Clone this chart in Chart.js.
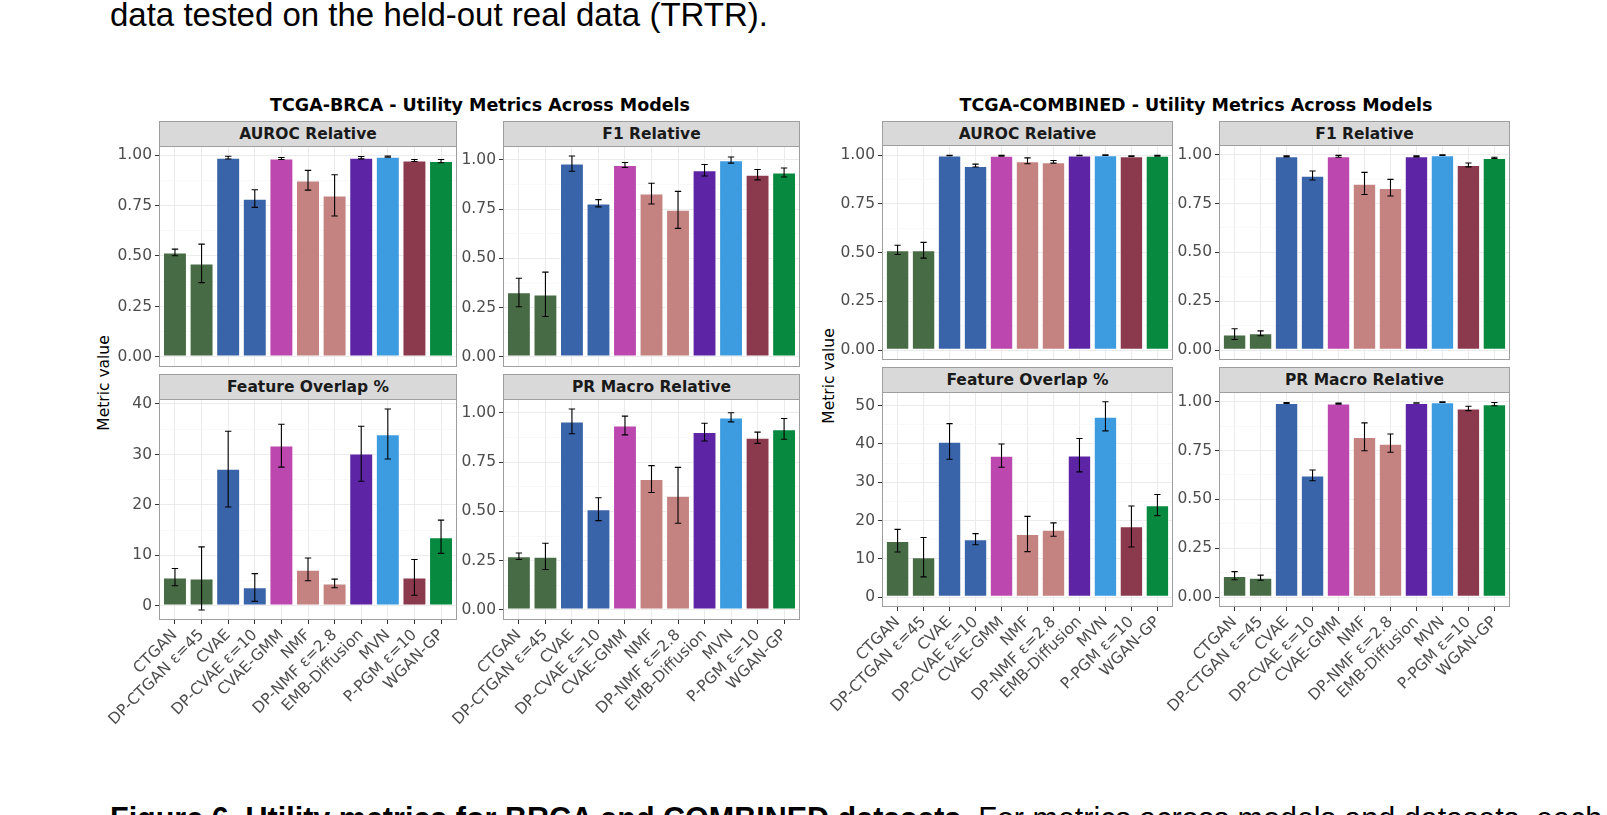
<!DOCTYPE html>
<html>
<head>
<meta charset="utf-8">
<script src="https://cdn.jsdelivr.net/npm/chart.js@4.4.1/dist/chart.umd.min.js"></script>
<style>
  html, body { margin: 0; padding: 0; background: #fff; }
  body { width: 1607px; height: 815px; overflow: hidden; position: relative; }
  .abs { position: absolute; }
  .page-text { font-family: "Liberation Sans", Arial, sans-serif; color: #000; white-space: nowrap; line-height: 36px; }
  .group-title { font-family: "DejaVu Sans", sans-serif; font-weight: bold; font-size: 17.5px; line-height: 20px; color: #000; white-space: nowrap; transform: translateX(-50%); }
  .strip { box-sizing: border-box; background: #d9d9d9; border: 1px solid #9e9e9e; display: flex; align-items: center; justify-content: center;
           font-family: "DejaVu Sans", sans-serif; font-weight: bold; font-size: 15.5px; color: #1a1a1a; }
  .ytitle { font-family: "DejaVu Sans", sans-serif; font-size: 15.5px; color: #000; white-space: nowrap; transform: translate(-50%, -50%) rotate(-90deg); }
</style>
</head>
<body>
<div class="abs page-text" style="left:110px; top:-3px; font-size:33px;">data tested on the held-out real data (TRTR).</div>
<div class="abs page-text" style="left:110px; top:800px; font-size:30.5px;"><b>Figure 6. Utility metrics for BRCA and COMBINED datasets.</b> For metrics across models and datasets, each score is shown relative to t</div>

<div class="abs group-title" style="left:480px; top:95px;">TCGA-BRCA - Utility Metrics Across Models</div>
<div class="abs group-title" style="left:1196px; top:95px;">TCGA-COMBINED - Utility Metrics Across Models</div>
<div class="abs ytitle" style="left:104px; top:383px;">Metric value</div>
<div class="abs ytitle" style="left:829px; top:376px;">Metric value</div>

<script>
// Models (x categories)
const models = ['CTGAN', 'DP-CTGAN ε=45', 'CVAE', 'DP-CVAE ε=10', 'CVAE-GMM', 'NMF', 'DP-NMF ε=2.8', 'EMB-Diffusion', 'MVN', 'P-PGM ε=10', 'WGAN-GP'];
const modelColors = ['#476b45', '#476b45', '#3a64a9', '#3a64a9', '#bc47ae', '#c48380', '#c48380', '#5d25a5', '#3d9ce0', '#8b3a4d', '#078a3f'];

// TCGA-BRCA
const brcaAuroc   = [0.517, 0.463, 0.987, 0.783, 0.983, 0.874, 0.799, 0.987, 0.992, 0.973, 0.970];
const brcaAurocLo = [0.501, 0.368, 0.980, 0.741, 0.978, 0.826, 0.698, 0.981, 0.989, 0.968, 0.962];
const brcaAurocHi = [0.534, 0.559, 0.994, 0.828, 0.988, 0.924, 0.902, 0.993, 0.995, 0.978, 0.978];

const brcaF1   = [0.328, 0.317, 0.981, 0.778, 0.973, 0.829, 0.747, 0.947, 0.998, 0.924, 0.935];
const brcaF1Lo = [0.255, 0.205, 0.942, 0.761, 0.961, 0.776, 0.652, 0.918, 0.983, 0.898, 0.913];
const brcaF1Hi = [0.399, 0.430, 1.019, 0.798, 0.986, 0.881, 0.840, 0.976, 1.014, 0.951, 0.958];

const brcaOverlap   = [5.63, 5.43, 27.15, 3.7, 31.8, 7.15, 4.44, 30.2, 34.0, 5.63, 13.6];
const brcaOverlapLo = [4.0, -0.8, 19.6, 0.9, 27.5, 5.0, 3.6, 24.7, 29.1, 2.1, 10.4];
const brcaOverlapHi = [7.4, 11.7, 34.6, 6.4, 36.0, 9.5, 5.3, 35.6, 39.0, 9.2, 17.0];

const brcaPr   = [0.272, 0.270, 0.956, 0.511, 0.935, 0.664, 0.579, 0.902, 0.976, 0.873, 0.916];
const brcaPrLo = [0.256, 0.205, 0.894, 0.453, 0.888, 0.596, 0.440, 0.857, 0.954, 0.845, 0.866];
const brcaPrHi = [0.289, 0.338, 1.019, 0.569, 0.983, 0.732, 0.723, 0.947, 1.000, 0.902, 0.971];

// TCGA-COMBINED
const combAuroc   = [0.512, 0.512, 0.998, 0.945, 0.997, 0.969, 0.964, 0.998, 1.000, 0.995, 0.997];
const combAurocLo = [0.491, 0.472, 0.997, 0.939, 0.995, 0.956, 0.959, 0.997, 0.999, 0.993, 0.995];
const combAurocHi = [0.538, 0.553, 0.999, 0.954, 0.999, 0.986, 0.973, 0.999, 1.002, 0.997, 0.999];

const combF1   = [0.080, 0.087, 0.991, 0.892, 0.991, 0.851, 0.829, 0.991, 0.997, 0.947, 0.983];
const combF1Lo = [0.055, 0.074, 0.988, 0.870, 0.986, 0.796, 0.788, 0.988, 0.995, 0.937, 0.980];
const combF1Hi = [0.110, 0.099, 0.994, 0.916, 0.996, 0.909, 0.873, 0.994, 0.999, 0.957, 0.986];

const combOverlap   = [14.7, 10.4, 40.6, 15.1, 36.9, 16.5, 17.6, 37.0, 47.1, 18.5, 24.0];
const combOverlapLo = [11.8, 5.3, 36.0, 13.7, 33.9, 11.9, 15.9, 32.7, 43.4, 13.1, 21.3];
const combOverlapHi = [17.7, 15.6, 45.3, 16.6, 40.0, 21.1, 19.4, 41.4, 51.0, 23.8, 26.8];

const combPr   = [0.109, 0.099, 0.993, 0.622, 0.990, 0.819, 0.785, 0.993, 0.997, 0.964, 0.986];
const combPrLo = [0.089, 0.087, 0.991, 0.595, 0.987, 0.749, 0.741, 0.992, 0.995, 0.954, 0.979];
const combPrHi = [0.131, 0.113, 0.995, 0.650, 0.993, 0.891, 0.834, 0.994, 0.999, 0.976, 0.995];

// Panel layout (plot box: left, top, width, height; strip drawn above)
const Y_AXIS_W = 62;
const PAD_TOP = 14;

const panels = [
  { title: 'AUROC Relative', vals: brcaAuroc, lo: brcaAurocLo, hi: brcaAurocHi, step: 0.25, left: 159, stripTop: 121, top: 146, width: 298, height: 221, xLabels: false },
  { title: 'F1 Relative', vals: brcaF1, lo: brcaF1Lo, hi: brcaF1Hi, step: 0.25, left: 503, stripTop: 121, top: 146, width: 297, height: 221, xLabels: false },
  { title: 'Feature Overlap %', vals: brcaOverlap, lo: brcaOverlapLo, hi: brcaOverlapHi, step: 10, left: 159, stripTop: 374, top: 399, width: 298, height: 221, xLabels: true },
  { title: 'PR Macro Relative', vals: brcaPr, lo: brcaPrLo, hi: brcaPrHi, step: 0.25, left: 503, stripTop: 374, top: 399, width: 297, height: 221, xLabels: true },
  { title: 'AUROC Relative', vals: combAuroc, lo: combAurocLo, hi: combAurocHi, step: 0.25, left: 882, stripTop: 121, top: 145, width: 291, height: 215, xLabels: false },
  { title: 'F1 Relative', vals: combF1, lo: combF1Lo, hi: combF1Hi, step: 0.25, left: 1219, stripTop: 121, top: 145, width: 291, height: 215, xLabels: false },
  { title: 'Feature Overlap %', vals: combOverlap, lo: combOverlapLo, hi: combOverlapHi, step: 10, left: 882, stripTop: 367, top: 392, width: 291, height: 215, xLabels: true },
  { title: 'PR Macro Relative', vals: combPr, lo: combPrLo, hi: combPrHi, step: 0.25, left: 1219, stripTop: 367, top: 392, width: 291, height: 215, xLabels: true },
];

Chart.defaults.font.family = '"DejaVu Sans", sans-serif';
Chart.defaults.font.size = 15.5;
Chart.defaults.color = '#4d4d4d';

// error bars + panel border, drawn on top of the bars
const errorBarPlugin = {
  id: 'errorBars',
  afterDatasetsDraw(chart, args, opts) {
    const { ctx, chartArea, scales: { x, y } } = chart;
    const capHalf = x.getPixelForValue(1.12) - x.getPixelForValue(1);
    ctx.save();
    ctx.strokeStyle = '#000';
    ctx.lineWidth = 1.1;
    opts.lo.forEach((lo, i) => {
      const cx = x.getPixelForValue(i + 1);
      const yLo = y.getPixelForValue(lo);
      const yHi = y.getPixelForValue(opts.hi[i]);
      ctx.beginPath();
      ctx.moveTo(cx, yLo);
      ctx.lineTo(cx, yHi);
      ctx.moveTo(cx - capHalf, yLo);
      ctx.lineTo(cx + capHalf, yLo);
      ctx.moveTo(cx - capHalf, yHi);
      ctx.lineTo(cx + capHalf, yHi);
      ctx.stroke();
    });
    ctx.strokeStyle = '#9e9e9e';
    ctx.lineWidth = 1;
    ctx.strokeRect(chartArea.left + 0.5, chartArea.top + 0.5, chartArea.width - 1, chartArea.height - 1);
    ctx.restore();
  }
};

function makePanel(p) {
  const xAxisH = p.xLabels ? 135 : 1;
  const padBottom = p.xLabels ? 0 : 14;
  const padRight = 6;

  // strip
  const strip = document.createElement('div');
  strip.className = 'abs strip';
  strip.style.left = p.left + 'px';
  strip.style.top = p.stripTop + 'px';
  strip.style.width = p.width + 'px';
  strip.style.height = (p.top - p.stripTop + 1) + 'px';
  strip.textContent = p.title;

  const canvas = document.createElement('canvas');
  const cw = Y_AXIS_W + p.width + padRight;
  const ch = PAD_TOP + p.height + xAxisH + padBottom;
  canvas.width = cw;
  canvas.height = ch;
  canvas.style.position = 'absolute';
  canvas.style.left = (p.left - Y_AXIS_W) + 'px';
  canvas.style.top = (p.top - PAD_TOP) + 'px';
  canvas.style.width = cw + 'px';
  canvas.style.height = ch + 'px';
  document.body.appendChild(canvas);
  document.body.appendChild(strip);

  // y range like ggplot: data range incl. zero, expanded by 5%
  const yMin = Math.min(0, ...p.lo);
  const yMax = Math.max(...p.hi, ...p.vals);
  const pad = (yMax - yMin) * 0.05;
  const lo = yMin - pad, hi = yMax + pad;

  const isMinor = c => c.tick && c.tick.minor;

  new Chart(canvas.getContext('2d'), {
    type: 'bar',
    data: {
      datasets: [{
        data: p.vals.map((v, i) => ({ x: i + 1, y: v })),
        backgroundColor: modelColors,
        borderColor: 'rgba(255,255,255,0.55)',
        borderWidth: 1,
        borderSkipped: false,
        categoryPercentage: 1,
        barPercentage: 0.9,
      }],
    },
    options: {
      responsive: false,
      animation: false,
      devicePixelRatio: 1,
      layout: { padding: { top: PAD_TOP, bottom: padBottom, right: padRight, left: 0 } },
      plugins: {
        legend: { display: false },
        tooltip: { enabled: false },
        errorBars: { lo: p.lo, hi: p.hi },
      },
      scales: {
        x: {
          type: 'linear',
          min: 0.4,
          max: 11.6,
          offset: false,
          afterBuildTicks: s => { s.ticks = models.map((m, i) => ({ value: i + 1 })); },
          afterFit: s => { s.height = xAxisH; },
          border: { display: false },
          grid: { offset: false, color: '#ebebeb', lineWidth: 1, drawTicks: p.xLabels, tickLength: 4, tickColor: '#333333' },
          ticks: {
            display: p.xLabels,
            autoSkip: false,
            minRotation: 45,
            maxRotation: 45,
            padding: 2,
            color: '#4d4d4d',
            callback: v => models[Math.round(v) - 1],
          },
        },
        y: {
          min: lo,
          max: hi,
          afterBuildTicks: s => {
            const t = [];
            const half = p.step / 2;
            for (let k = Math.ceil(lo / half); k * half <= hi; k++) {
              t.push({ value: +(k * half).toFixed(6), minor: k % 2 !== 0 });
            }
            s.ticks = t;
          },
          afterFit: s => { s.width = Y_AXIS_W; },
          border: { display: false },
          grid: {
            color: c => isMinor(c) ? '#f3f3f3' : '#ebebeb',
            lineWidth: c => isMinor(c) ? 0.6 : 1,
            tickColor: c => isMinor(c) ? 'rgba(0,0,0,0)' : '#333333',
            tickLength: 4,
          },
          ticks: {
            padding: 3,
            color: '#4d4d4d',
            autoSkip: false,
            callback: (v, i, ticks) => ticks[i].minor ? '' : (p.step < 1 ? v.toFixed(2) : String(Math.round(v))),
          },
        },
      },
    },
    plugins: [errorBarPlugin],
  });
}

panels.forEach(makePanel);
</script>
</body>
</html>
